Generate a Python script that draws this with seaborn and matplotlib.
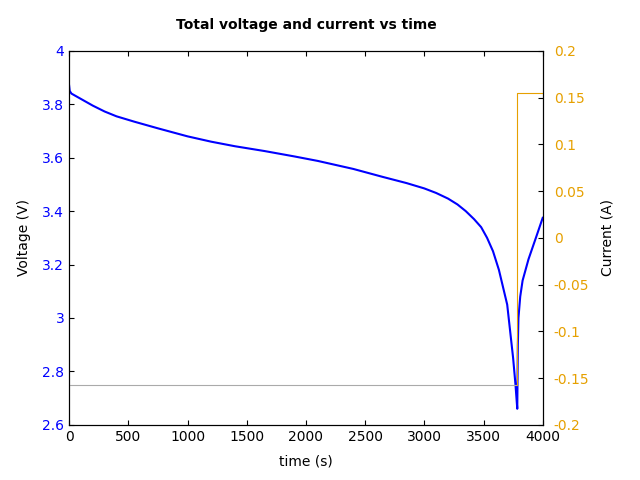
import matplotlib
matplotlib.use("Agg")
import matplotlib.pyplot as plt
import seaborn as sns
import pandas as pd

t_v = [0, 5, 20, 100, 200, 300, 400, 550, 750, 1000, 1200, 1400, 1650, 1900, 2100, 2400, 2650, 2850, 3000, 3100, 3200, 3280, 3350, 3420, 3480, 3530, 3580, 3630, 3700, 3750, 3770, 3785, 3790, 3795, 3810, 3830, 3880, 3950, 4000]
volt = [3.87, 3.85, 3.84, 3.82, 3.795, 3.773, 3.755, 3.735, 3.71, 3.68, 3.66, 3.643, 3.625, 3.605, 3.588, 3.558, 3.528, 3.505, 3.485, 3.468, 3.447, 3.425, 3.40, 3.37, 3.34, 3.30, 3.25, 3.18, 3.05, 2.85, 2.75, 2.66, 2.90, 3.00, 3.08, 3.14, 3.22, 3.31, 3.375]
t_i = [0, 3785, 3785, 4000]
curr = [-0.157, -0.157, 0.155, 0.155]

fig, ax = plt.subplots(figsize=(6.4, 4.8), dpi=100)
fig.subplots_adjust(left=0.108, right=0.848, top=0.894, bottom=0.115)
sns.lineplot(data=pd.DataFrame({"t": t_v, "v": volt}), x="t", y="v", ax=ax,
             color="blue", lw=1.5, sort=False, estimator=None)
ax.set_xlim(0, 4000); ax.set_ylim(2.6, 4.0)
ax.set_xticks(range(0, 4001, 500))
ax.set_yticks([2.6, 2.8, 3.0, 3.2, 3.4, 3.6, 3.8, 4.0])
ax.set_yticklabels(["2.6", "2.8", "3", "3.2", "3.4", "3.6", "3.8", "4"])
ax.tick_params(direction="in", top=True, labelcolor="black")
ax.tick_params(axis="y", labelcolor="blue")
ax.set_xlabel("time (s)", labelpad=8)
ax.set_ylabel("Voltage (V)", labelpad=8)
ax.set_title("Total voltage and current vs time", fontweight="bold", fontsize=10, pad=16)
ax2 = ax.twinx()
ax2.plot([0, 3785], [-0.157, -0.157], color="#aaaaaa", lw=0.8)
sns.lineplot(data=pd.DataFrame({"t": t_i[1:], "i": curr[1:]}), x="t", y="i", ax=ax2,
             color="#e6a000", lw=0.8, sort=False, estimator=None)
ax2.set_ylim(-0.2, 0.2)
ax2.set_yticks([-0.2, -0.15, -0.1, -0.05, 0, 0.05, 0.1, 0.15, 0.2])
ax2.set_yticklabels(["-0.2", "-0.15", "-0.1", "-0.05", "0", "0.05", "0.1", "0.15", "0.2"])
ax2.tick_params(direction="in", labelcolor="#e6a000", pad=8)
ax2.set_ylabel("Current (A)", labelpad=8)
ax2.set_xlabel("")
fig.savefig("out.png")
